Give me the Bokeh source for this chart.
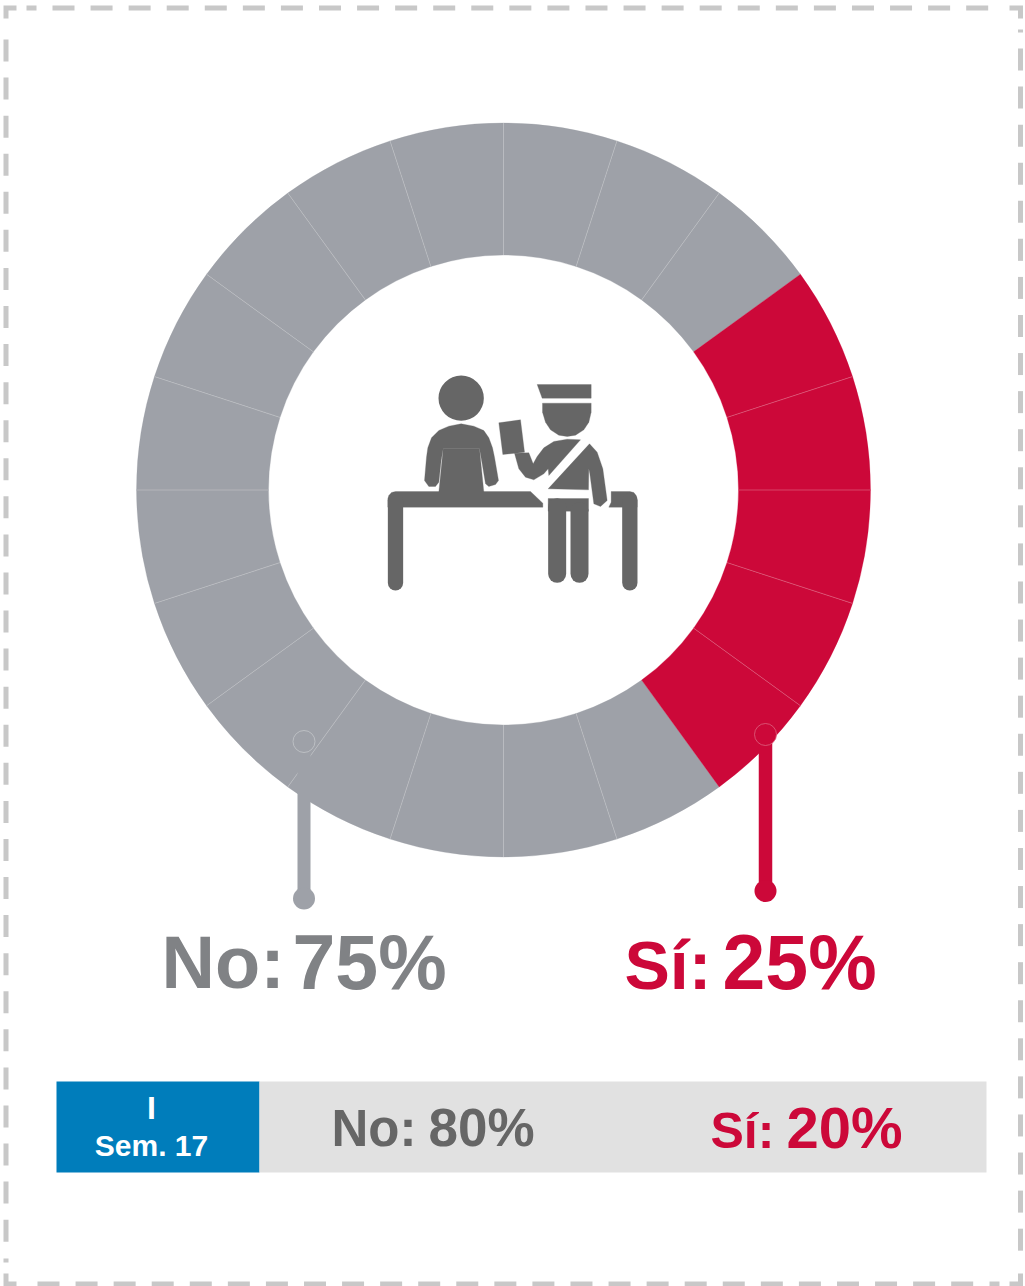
import numpy as np
from bokeh.plotting import figure
from bokeh.embed import file_html
from bokeh.resources import INLINE
from bokeh.core.properties import value

# ---- data ----
categories = ["No", "Sí"]
current_share = [75, 25]
previous_share = [80, 20]
period_label = ["I", "Sem. 17"]
segment_count = 20
GREY, RED = "#9EA1A8", "#CC0839"
ICON = "#666666"

W, H = 1025, 1286
p = figure(width=W, height=H, x_range=(0, W), y_range=(0, H), output_backend="svg",
           toolbar_location=None, min_border=0, outline_line_color=None)
p.axis.visible = False
p.grid.visible = False
p.background_fill_color = "white"
p.border_fill_color = "white"

def Y(v):
    return H - np.asarray(v, dtype=float)

# ---- border ----
BC = "#C8C8C8"
LX, RX, TY, BY = 5.5, 1020, 7.5, 1283.5
PERIOD = 38.07
def hdash(start, stop, y):
    a = np.arange(start, stop, PERIOD)
    p.segment(a, Y([y] * len(a)), a + 22, Y([y] * len(a)), line_color=BC, line_width=5)
def vdash(start, stop, x):
    a = np.arange(start, stop, PERIOD)
    p.segment([x] * len(a), Y(a), [x] * len(a), Y(a + 22), line_color=BC, line_width=5)
hdash(52, 970, TY); hdash(37, 955, BY)
vdash(39, 1225, LX); vdash(48, 1235, RX)
for xs, ys in [([26, 36], [TY, TY]), ([LX, LX], [1258, 1262]), ([RX, RX], [29, 32]), ([989, 999], [BY, BY]),
               ([LX, LX, 16], [18, TY, TY]), ([1009, RX, RX], [TY, TY, 18]),
               ([LX, LX, 16], [1273, BY, BY]), ([1009, RX, RX], [BY, BY, 1273])]:
    p.line(xs, Y(ys), line_color=BC, line_width=5, line_join="miter")

# ---- ring ----
cx, cy = 503, H - 489.5
step = 360 / segment_count
red_span = current_share[1] / 100 * 360
red_start = -54
starts_r = np.arange(0, int(round(red_span / step))) * step + red_start
starts_g = np.arange(0, int(round(current_share[0] / 100 * 360 / step))) * step + red_start + red_span
R_OUT, R_IN = 367, 235
p.annular_wedge(cx, cy, R_IN, R_OUT, starts_g, starts_g + step,
                start_angle_units="deg", end_angle_units="deg",
                fill_color=GREY, line_color=GREY, line_width=0.3)
p.annular_wedge(cx, cy, R_IN, R_OUT, starts_r, starts_r + step,
                start_angle_units="deg", end_angle_units="deg",
                fill_color=RED, line_color=RED, line_width=0.3)
for starts, col in [(starts_g[1:], "#C4C6CA"), (starts_r[1:], "#E0708A")]:
    seams = np.deg2rad(starts)
    p.segment(cx + R_IN * np.cos(seams), cy + R_IN * np.sin(seams),
              cx + R_OUT * np.cos(seams), cy + R_OUT * np.sin(seams),
              line_color=col, line_width=0.6)

# ---- leaders ----
p.line([303.5, 303.5], Y([741, 898]), line_color=GREY, line_width=13)
p.line([765, 765], Y([734, 890.5]), line_color=RED, line_width=13.5)
p.circle([303.5], Y([898]), radius=11, fill_color=GREY, line_color=None)
p.circle([765], Y([890.5]), radius=11, fill_color=RED, line_color=None)
p.circle([303.5], Y([741]), radius=11, fill_color=GREY, line_color="#C9CBCF", line_width=0.7)
p.circle([765], Y([734]), radius=11, fill_color=RED, line_color="#E0708A", line_width=0.7)

# ---- icon (zoom-crop coordinates mapped to the page) ----
def ix(v): return 370 + np.asarray(v, dtype=float) / 3
def iy(v): return Y(360 + np.asarray(v, dtype=float) / 3)
polys = [
    [(205,210),(235,197),(272,190),(310,197),(340,210),(355,232),(366,262),(372,290),(384,360),(375,372),(355,378),(345,370),(335,310),(327,265),(218,265),(212,300),(205,365),(195,378),(175,378),(162,360),(168,290),(172,262),(183,232)],
    [(218,265),(327,265),(340,395),(205,395)],
    [(75,393),(480,393),(517,428),(517,440),(52,440),(52,415),(55,405),(63,396)],
    [(722,393),(778,393),(790,396),(797,405),(800,415),(800,440),(715,440),(722,425)],
    [(500,72),(662,72),(662,113),(515,113)],
    [(516,128),(662,128),(662,155),(655,185),(640,208),(615,224),(590,228),(565,224),(540,208),(525,185),(516,155)],
    [(385,187),(450,178),(462,275),(397,282)],
    [(432,278),(475,277),(488,310),(500,288),(520,262),(550,243),(590,236),(630,238),(535,345),(533,325),(520,340),(490,358),(465,350),(445,325)],
    [(657,250),(680,275),(697,325),(710,420),(690,438),(670,430),(658,340),(655,325),(654,388),(533,385)],
    [(533,414),(654,414),(654,452),(533,452)],
]
p.patches([ix([q[0] for q in s]) for s in polys], [iy([q[1] for q in s]) for s in polys],
          fill_color=ICON, line_color=ICON, line_width=0.3)
p.circle(ix([272]), iy([113]), radius=68 / 3, fill_color=ICON, line_color=None)
for x0, y0, y1, w in [(75, 420, 667, 15.3), (778, 420, 667, 15.3), (560, 440, 640, 18), (627, 452, 640, 18)]:
    p.line(ix([x0, x0]), iy([y0, y1]), line_color=ICON, line_width=w, line_cap="round")

# ---- labels ----
BASE_SHIFT = 0.36  # Bokeh's baseline offset, as a share of the font size
def label(x, y, txt, color, size, align="left"):
    p.text([x], Y([y - BASE_SHIFT * size]), text=[txt], text_color=color, text_font=value("Liberation Sans"),
           text_font_style="bold", text_font_size=f"{size}px", text_align=align,
           text_baseline="alphabetic")

NOC = "#808285"
label(161, 989, f"{categories[0]}:", NOC, 74)
label(292, 989, f"{current_share[0]}%", NOC, 77)
label(624, 989, f"{categories[1]}:", RED, 68)
label(722, 989, f"{current_share[1]}%", RED, 77)

# ---- comparison bar ----
p.quad(left=[56], right=[259], top=Y([1081]), bottom=Y([1172]), fill_color="#007DBB", line_color=None)
p.quad(left=[259], right=[986], top=Y([1081]), bottom=Y([1172]), fill_color="#E1E1E1", line_color=None)
label(151, 1119, period_label[0], "white", 32, "center")
label(151, 1156, period_label[1], "white", 30, "center")
label(331, 1146, f"{categories[0]}:", ICON, 51)
label(428, 1146, f"{previous_share[0]}%", ICON, 53)
label(710, 1148, f"{categories[1]}:", RED, 50)
label(786, 1148, f"{previous_share[1]}%", RED, 58)

open("out.html", "w").write(file_html(p, INLINE))
